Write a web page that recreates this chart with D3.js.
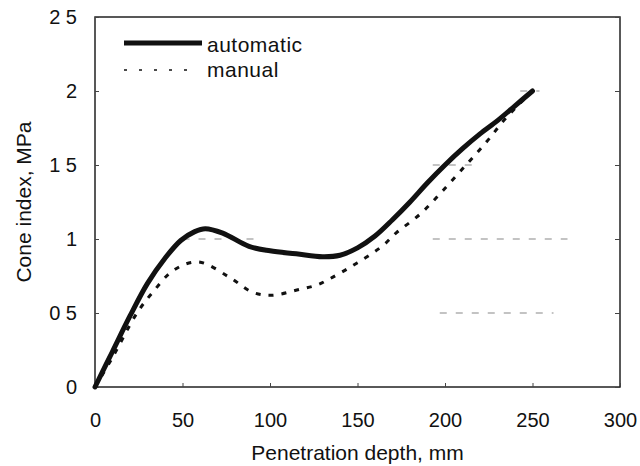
<!DOCTYPE html>
<html>
<head>
  <meta charset="utf-8">
  <title>Cone index</title>
  <style>
    body { margin: 0; background: #fff; }
    text { font-family: "Liberation Sans", Arial, sans-serif; fill: #111; }
  </style>
</head>
<body>
  <svg width="640" height="466"></svg>
  <script src="https://cdnjs.cloudflare.com/ajax/libs/d3/7.8.5/d3.min.js"></script>
  <script>
    // depth (mm) and cone index (MPa)
    const autoDepth = [0, 10, 20, 30, 40, 49, 57, 63, 73, 88, 100, 115, 130, 140, 150, 160, 170, 180, 190, 200, 210, 220, 230, 240, 250];
    const autoIndex = [0, 0.24, 0.48, 0.70, 0.87, 0.99, 1.05, 1.07, 1.04, 0.95, 0.92, 0.90, 0.88, 0.89, 0.94, 1.02, 1.13, 1.25, 1.38, 1.50, 1.61, 1.71, 1.80, 1.90, 2.0];
    const manDepth = [0, 10, 24, 33, 45, 59, 77, 90, 101, 117, 127, 134, 143, 150, 158, 165, 172, 186, 199, 212, 224, 235, 250];
    const manIndex = [0, 0.2, 0.5, 0.64, 0.79, 0.845, 0.74, 0.64, 0.62, 0.66, 0.69, 0.73, 0.79, 0.84, 0.90, 0.96, 1.04, 1.17, 1.33, 1.50, 1.66, 1.82, 2.0];
    const xTicks = [0, 50, 100, 150, 200, 250, 300];
    const yTicks = [0, 0.5, 1, 1.5, 2, 2.5];
    const yTickLabels = ["0", "0 5", "1", "1 5", "2", "2 5"];
    // faint leftovers of grid lines in the scan: [y, from, to]
    const gridBits = [[1, 50, 93], [1, 193, 270], [0.5, 197, 262], [1.5, 193, 218], [2, 243, 254]];

    const svg = d3.select('svg');
    const margin = {left: 95, right: 20, top: 17, bottom: 79};
    const width = 640 - margin.left - margin.right;
    const height = 466 - margin.top - margin.bottom;

    const x = d3.scaleLinear().domain([0, 300]).range([0, width]);
    const y = d3.scaleLinear().domain([0, 2.5]).range([height, 0]);

    const g = svg.append('g').attr('transform', 'translate(' + margin.left + ',' + margin.top + ')');

    g.selectAll('.grid').data(gridBits).enter().append('line')
      .attr('x1', d => x(d[1])).attr('x2', d => x(d[2]))
      .attr('y1', d => y(d[0])).attr('y2', d => y(d[0]))
      .attr('stroke', '#888').attr('stroke-width', 1.2)
      .attr('stroke-dasharray', '7,9');

    // frame
    g.append('rect').attr('width', width).attr('height', height)
      .attr('fill', 'none').attr('stroke', '#222').attr('stroke-width', 1.5);

    const xAxis = d3.axisBottom(x).tickValues(xTicks).tickSizeInner(-4).tickSizeOuter(0).tickPadding(26);
    const yAxis = d3.axisLeft(y).tickValues(yTicks).tickSizeInner(-4).tickSizeOuter(0).tickPadding(18)
      .tickFormat((d, i) => yTickLabels[i]);
    const yRight = d3.axisRight(y).tickValues(yTicks).tickSizeInner(-5).tickSizeOuter(0).tickFormat('');

    const gx = g.append('g').attr('transform', 'translate(0,' + height + ')').call(xAxis);
    const gy = g.append('g').call(yAxis);
    const gr = g.append('g').attr('transform', 'translate(' + width + ',0)').call(yRight);
    [gx, gy, gr].forEach(a => {
      a.select('.domain').remove();
      a.selectAll('line').attr('stroke', '#444');
      a.selectAll('text').attr('font-size', 20).style('font-family', '"Liberation Sans", Arial, sans-serif').attr('fill', '#111');
    });

    const line = d3.line().curve(d3.curveCatmullRom.alpha(0.5))
      .x(d => x(d[0])).y(d => y(d[1]));

    g.append('path').datum(manDepth.map((d, i) => [d, manIndex[i]]))
      .attr('d', line).attr('fill', 'none').attr('stroke', '#111')
      .attr('stroke-width', 3).attr('stroke-dasharray', '5,8');

    g.append('path').datum(autoDepth.map((d, i) => [d, autoIndex[i]]))
      .attr('d', line).attr('fill', 'none').attr('stroke', '#111')
      .attr('stroke-width', 5).attr('stroke-linejoin', 'round').attr('stroke-linecap', 'round');

    // axis titles
    svg.append('text').attr('x', margin.left + width / 2).attr('y', 460)
      .attr('text-anchor', 'middle').attr('font-size', 21).text('Penetration depth, mm');
    svg.append('text').attr('transform', 'translate(31,' + (margin.top + height / 2) + ') rotate(-90)')
      .attr('text-anchor', 'middle').attr('font-size', 21).text('Cone index, MPa');

    // legend
    const legend = svg.append('g');
    legend.append('line').attr('x1', 124).attr('x2', 202).attr('y1', 43).attr('y2', 43)
      .attr('stroke', '#111').attr('stroke-width', 5);
    legend.append('text').attr('x', 207).attr('y', 52).attr('font-size', 21)
      .attr('letter-spacing', 0.5).text('automatic');
    legend.append('line').attr('x1', 124).attr('x2', 194).attr('y1', 70).attr('y2', 70)
      .attr('stroke', '#111').attr('stroke-width', 1.5).attr('stroke-dasharray', '3,12');
    legend.append('text').attr('x', 207).attr('y', 77).attr('font-size', 21)
      .attr('letter-spacing', 0.5).text('manual');
  </script>
</body>
</html>
